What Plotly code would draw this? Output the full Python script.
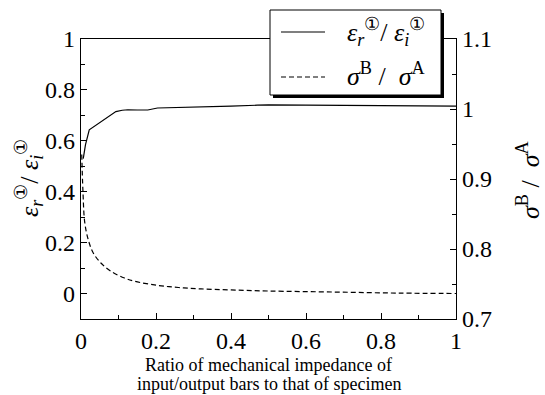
import plotly.graph_objects as go

# Solid: reflected/incident strain ratio (left axis)
x_eps = [0.006, 0.012, 0.022, 0.031, 0.045, 0.053, 0.071, 0.093, 0.11, 0.125, 0.15, 0.178,
         0.204, 0.3, 0.4, 0.47, 0.5, 0.6, 0.7, 0.8, 0.9, 1.0]
y_eps = [0.53, 0.585, 0.643, 0.652, 0.665, 0.676, 0.692, 0.715, 0.72, 0.722, 0.721, 0.721,
         0.729, 0.731, 0.736, 0.740, 0.741, 0.740, 0.739, 0.738, 0.737, 0.736]

# Dashed: stress ratio (right axis)
x_sig = [0.002, 0.005, 0.01, 0.019, 0.032, 0.053, 0.08, 0.116, 0.142, 0.204,
         0.26, 0.32, 0.4, 0.5, 0.68, 0.85, 1.0]
y_sig = [0.935, 0.885, 0.838, 0.814, 0.795, 0.780, 0.768, 0.7585, 0.754, 0.748,
         0.745, 0.743, 0.7415, 0.740, 0.7385, 0.737, 0.7364]

x_title_lines = ["Ratio of mechanical impedance of", "input/output bars to that of specimen"]

FONT = "Liberation Serif"
eps_label = "<i>ε<sub>r</sub></i><sup>①</sup>/ <i>ε<sub>i</sub></i><sup>①</sup>"
sig_label = "<i>σ</i><sup>B</sup> /  <i>σ</i><sup>A</sup>"
DASH = "5px,3px"

fig = go.Figure()
fig.add_trace(go.Scatter(x=x_eps, y=y_eps, mode="lines", name=eps_label,
                         line=dict(color="black", width=1.2), showlegend=False))
fig.add_trace(go.Scatter(x=x_sig, y=y_sig, mode="lines", name=sig_label, yaxis="y2",
                         line=dict(color="black", width=1.2, dash=DASH, shape="spline"),
                         showlegend=False))

L, R, T, B = 81, 89, 39, 76
W, H = 545, 395
pw, ph = W - L - R, H - T - B

def px2x(p):
    return (p - L) / pw

def px2y(p):
    return (H - B - p) / ph

tf = dict(family=FONT, size=24, color="black")

fig.update_layout(
    width=W, height=H,
    margin=dict(l=L, r=R, t=T, b=B),
    paper_bgcolor="white", plot_bgcolor="white",
    font=dict(family=FONT, color="black", size=24),
    showlegend=False,
    xaxis=dict(range=[0, 1], dtick=0.2, tick0=0, ticks="inside", ticklen=6,
               tickwidth=1, tickcolor="black", showline=True, linecolor="black",
               linewidth=1.2, mirror=True, showgrid=False, zeroline=False,
               tickformat="~g",
               minor=dict(dtick=0.1, ticks="inside", ticklen=4, tickcolor="black"),
               tickfont=tf),
    yaxis=dict(range=[-0.1, 1], dtick=0.2, tick0=0, ticks="inside", ticklen=6,
               tickwidth=1, tickcolor="black", showline=True, linecolor="black",
               linewidth=1.2, showgrid=False, zeroline=False, tickformat="~g",
               minor=dict(dtick=0.1, tick0=0, ticks="inside", ticklen=4, tickcolor="black"),
               tickfont=tf),
    yaxis2=dict(range=[0.7, 1.1], dtick=0.1, tick0=0.7, ticks="inside", ticklen=6,
                tickwidth=1, tickcolor="black", overlaying="y", side="right",
                showline=True, linecolor="black", linewidth=1.2, showgrid=False,
                zeroline=False, tickformat="~g",
                minor=dict(dtick=0.05, tick0=0.7, ticks="inside", ticklen=4, tickcolor="black"),
                tickfont=tf),
)

# x-axis title (two lines) and y-axis titles as annotations
for line_text, yc in zip(x_title_lines, [365, 384]):
    fig.add_annotation(x=0.5, y=px2y(yc), xref="paper", yref="paper", yanchor="middle",
                       xanchor="center", text=line_text, showarrow=False,
                       font=dict(family=FONT, size=18))
fig.add_annotation(x=px2x(29), y=px2y(178), xref="paper", yref="paper",
                   xanchor="center", yanchor="middle",
                   text=eps_label, textangle=-90, showarrow=False,
                   font=dict(family=FONT, size=26))
fig.add_annotation(x=px2x(528), y=px2y(180), xref="paper", yref="paper",
                   xanchor="center", yanchor="middle",
                   text=sig_label, textangle=-90, showarrow=False,
                   font=dict(family=FONT, size=26))

# legend box (drawn manually) with drop shadow
fig.add_shape(type="rect", xref="paper", yref="paper",
              x0=px2x(273), x1=px2x(444), y0=px2y(98), y1=px2y(13),
              fillcolor="black", line=dict(width=0), layer="above")
fig.add_shape(type="rect", xref="paper", yref="paper",
              x0=px2x(270), x1=px2x(441), y0=px2y(95), y1=px2y(10),
              fillcolor="white", line=dict(color="black", width=1), layer="above")
fig.add_shape(type="line", xref="paper", yref="paper",
              x0=px2x(281), x1=px2x(325), y0=px2y(32), y1=px2y(32),
              line=dict(color="black", width=1.2), layer="above")
fig.add_shape(type="line", xref="paper", yref="paper",
              x0=px2x(281), x1=px2x(325), y0=px2y(77), y1=px2y(77),
              line=dict(color="black", width=1.2, dash=DASH), layer="above")
fig.add_annotation(x=px2x(345), y=px2y(32), xref="paper", yref="paper",
                   xanchor="left", yanchor="middle", text=eps_label, showarrow=False,
                   font=dict(family=FONT, size=26))
fig.add_annotation(x=px2x(345), y=px2y(74), xref="paper", yref="paper",
                   xanchor="left", yanchor="middle", text=sig_label, showarrow=False,
                   font=dict(family=FONT, size=26))

fig.write_html("out.html")
